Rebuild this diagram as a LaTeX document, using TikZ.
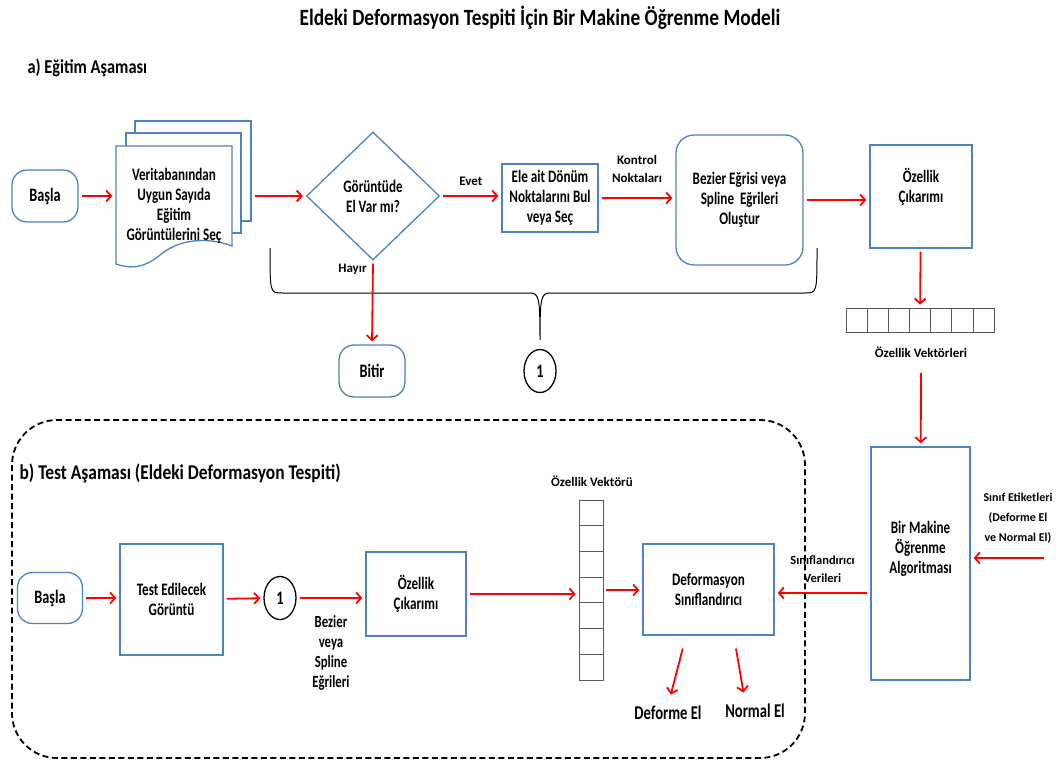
\documentclass[tikz,border=0pt]{standalone}
\usepackage{fontspec}
\setmainfont{Carlito}
\newfontfamily\condfont{Carlito}[FakeStretch=0.75]
\newfontfamily\headfont{Carlito}[FakeStretch=0.83]
\usetikzlibrary{positioning, arrows.meta, shapes.geometric}
\usepackage{xcolor}
\definecolor{boxblue}{RGB}{79,129,189}

\begin{document}
\begin{tikzpicture}[
    x=1pt, y=-1pt,
    box/.style={
        draw=boxblue,
        line width=1.3pt,
        align=center,
        inner sep=2pt,
        font=\condfont\bfseries\fontsize{17.5}{20}\selectfont
    },
    rbox/.style={
        box,
        rounded corners=18pt
    },
    term/.style={
        box,
        rounded corners=15pt,
        font=\condfont\bfseries\fontsize{19}{22}\selectfont
    },
    decision/.style={
        box,
        diamond,
        inner sep=0pt,
        minimum width=133pt,
        minimum height=128pt
    },
    conn/.style={
        draw,
        ellipse,
        line width=1.3pt,
        inner sep=0pt,
        minimum width=32pt,
        minimum height=43pt,
        font=\condfont\bfseries\fontsize{19}{22}\selectfont
    },
    lbl/.style={
        align=center,
        text=black,
        font=\bfseries\fontsize{13}{18}\selectfont
    },
    arr/.style={
        -{Straight Barb[length=5pt,width=11pt]},
        red,
        line width=1.8pt,
        shorten <=3pt,
        shorten >=3pt
    },
    cell/.style={
        draw=gray!70!black,
        line width=0.7pt
    }
]
\useasboundingbox (0,0) rectangle (1060,763);

% Titles
\node[font=\headfont\bfseries\fontsize{23.3}{26}\selectfont] (title) at (540,18)
{Eldeki Deformasyon Tespiti İçin Bir Makine Öğrenme Modeli};
\node[anchor=west, font=\headfont\bfseries\fontsize{19.7}{22}\selectfont] (parta) at (24,68)
{a) Eğitim Aşaması};

% a) Training row
\node[term, minimum width=66pt, minimum height=52pt] (start) at (45,196) {Başla};

% stacked documents
\draw[boxblue, line width=1.3pt, fill=white] (135,121) rectangle (251,221);
\draw[boxblue, line width=1.3pt, fill=white] (126,133) rectangle (241,233);
\draw[boxblue, line width=1.3pt, fill=white]
(116,146) -- (232,146) -- (232,246)
.. controls (205,236) and (178,240) .. (160,255)
.. controls (142,270) and (128,268) .. (116,264) -- cycle;
\node[box, draw=none, minimum width=116pt] (doc) at (174,206)
{Veritabanından\\Uygun Sayıda\\Eğitim\\Görüntülerini Seç};

\node[decision] (dec) at (373,196) {Görüntüde\\El Var mı?};
\node[box, minimum width=96pt, minimum height=68pt] (turn) at (550,198)
{Ele ait Dönüm\\Noktalarını Bul\\veya Seç};
\node[rbox, minimum width=127pt, minimum height=130pt] (curve) at (739.5,200)
{Bezier Eğrisi veya\\Spline\ \ Eğrileri\\Oluştur};
\node[box, minimum width=102pt, minimum height=103pt] (feat) at (921,196.5)
{Özellik\\Çıkarımı\\[3pt]};

\node[term, minimum width=66pt, minimum height=52pt] (stop) at (372,371) {Bitir};
\node[conn] (one) at (540,371) {1};

% feature vectors
\node[cell, minimum width=148pt, minimum height=24pt, inner sep=0pt] (fvec) at (920,320) {};
\foreach \i in {1,...,6}
    \draw[cell] (846+\i*21.14,308) -- (846+\i*21.14,332);
\node[lbl] (fveclbl) at (921,352) {Özellik Vektörleri};

\node[box, minimum width=99pt, minimum height=233pt] (ml) at (920.5,563.5)
{Bir Makine\\Öğrenme\\Algoritması\\[13pt]};
\node[lbl, font=\bfseries\fontsize{12}{20}\selectfont] (classes) at (1018,518)
{Sınıf Etiketleri\\(Deforme El\\ve Normal El)};
\coordinate (classin) at (1047,558);

% brace
\draw[line width=1pt]
(270,248) .. controls (270,293) .. (282,293) -- (530,293)
.. controls (539,293) and (540,298) .. (540,340)
.. controls (540,298) and (541,293) .. (550,293) -- (805,293)
.. controls (817,293) .. (817,248);

% a) connections
\draw[arr] (start) -- (start -| doc.west);
\draw[arr] ([xshift=19pt]doc.east |- dec) -- (dec);
\draw[arr] (dec) -- node[lbl, above=6pt] {Evet} (dec -| turn.west);
\draw[arr] (turn) -- node[lbl, above=11pt] {Kontrol\\Noktaları} (turn -| curve.west);
\draw[arr] (curve) -- (curve -| feat.west);
\draw[arr] (dec.south) -- node[lbl, pos=0.1, left=2pt] {Hayır} (stop.north);
\draw[arr] (feat) -- (fvec);
\draw[arr, shorten <=12pt] (fveclbl) -- (ml);
\draw[arr] (classin) -- (classin -| ml.east);

% b) Test stage
\draw[dash pattern=on 6pt off 3.5pt, line width=1.8pt, rounded corners=45pt] (12,420) rectangle (805,758);
\node[anchor=west, font=\headfont\bfseries\fontsize{21}{24}\selectfont] (partb) at (16,473)
{b) Test Aşaması (Eldeki Deformasyon Tespiti)};

\node[term, minimum width=65pt, minimum height=51pt] (start2) at (50,598) {Başla};
\node[box, minimum width=103pt, minimum height=111pt] (test) at (171.5,599.5)
{Test Edilecek\\Görüntü};
\node[conn] (one2) at (280,598) {1};
\node[box, minimum width=100pt, minimum height=84pt] (feat2) at (416,594)
{Özellik\\Çıkarımı};

% feature vector
\node[cell, minimum width=24pt, minimum height=180pt, inner sep=0pt] (tvec) at (591,590) {};
\foreach \i in {1,...,6}
    \draw[cell] (579,500+\i*25.71) -- (603,500+\i*25.71);
\node[lbl] (tveclbl) at (592,481) {Özellik Vektörü};

\node[box, minimum width=131pt, minimum height=91pt] (cls) at (708.5,589.5)
{Deformasyon\\Sınıflandırıcı};
\node[font=\condfont\bfseries\fontsize{19.5}{22}\selectfont] (defel) at (668,713) {Deforme El};
\node[font=\condfont\bfseries\fontsize{19.5}{22}\selectfont] (normel) at (755,711) {Normal El};

% b) connections
\draw[arr] (start2) -- (start2 -| test.west);
\draw[arr] (test) -- (one2);
\draw[arr] (one2) -- node[lbl, below=13pt, font=\condfont\bfseries\fontsize{17}{20}\selectfont]
{Bezier\\veya\\Spline\\Eğrileri} (one2 -| feat2.west);
\draw[arr] (feat2) -- (feat2 -| tvec.west);
\draw[arr] (tvec) -- (tvec -| cls.west);
\draw[arr] (ml.west |- 0,593) -- node[lbl, above=6pt, font=\bfseries\fontsize{12.5}{18}\selectfont]
{Sınıflandırıcı\\Verileri} (cls.east |- 0,593);
\draw[arr] ([xshift=-25pt,yshift=-10pt]cls.south) -- ([xshift=2pt,yshift=5pt]defel.north);
\draw[arr] ([xshift=27pt,yshift=-10pt]cls.south) -- ([xshift=-11pt,yshift=5pt]normel.north);

\end{tikzpicture}
\end{document}
